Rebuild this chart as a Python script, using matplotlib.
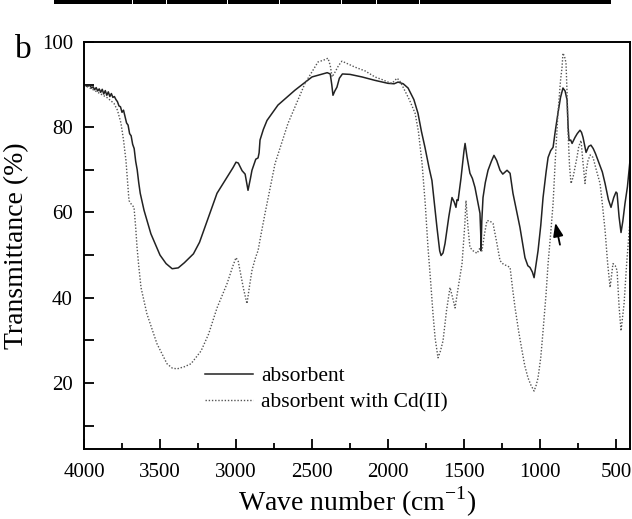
import matplotlib
matplotlib.use("Agg")
import matplotlib.pyplot as plt
from matplotlib.patches import Rectangle

plt.rcParams['font.family'] = ['Liberation Serif', 'DejaVu Serif']
plt.rcParams['mathtext.fontset'] = 'custom'
plt.rcParams['mathtext.rm'] = 'Liberation Serif'

# ---- data ----
wn_abs = [4000, 3980, 3960, 3950, 3940, 3930, 3920, 3910, 3900, 3890, 3880, 3870, 3860, 3850,
          3840, 3830, 3820, 3810, 3800, 3790, 3780, 3770, 3760, 3750, 3740, 3730, 3720, 3710,
          3700, 3690, 3680, 3670, 3660, 3650, 3640, 3630, 3605, 3560, 3500, 3460, 3420, 3380,
          3340, 3280, 3240, 3190, 3125, 3060, 3020, 3000, 2985, 2960, 2940, 2921, 2905, 2895,
          2870, 2855, 2848, 2842, 2820, 2796, 2724, 2612, 2500, 2400, 2380, 2370, 2362, 2350,
          2336, 2320, 2300, 2250, 2171, 2086, 2000, 1960, 1934, 1900, 1868, 1830, 1803, 1780,
          1757, 1730, 1711, 1690, 1678, 1660, 1651, 1638, 1625, 1600, 1579, 1565, 1553, 1546,
          1539, 1520, 1500, 1493, 1480, 1461, 1445, 1428, 1410, 1395, 1390, 1388, 1383, 1375,
          1360, 1342, 1320, 1303, 1285, 1263, 1245, 1230, 1217, 1197, 1178, 1164, 1132, 1099,
          1080, 1066, 1050, 1039, 1025, 1013, 995, 980, 960, 947, 930, 914, 900, 882, 865, 849,
          835, 822, 815, 809, 798, 789, 770, 755, 737, 727, 717, 705, 697, 680, 665, 650, 635,
          618, 590, 572, 550, 533, 515, 500, 493, 480, 467, 455, 441, 425, 408]
t_abs = [90.0, 89.6, 89.8, 89.2, 89.5, 88.8, 89.3, 88.5, 89.0, 88.2, 88.9, 87.8, 88.6, 87.5,
         88.3, 87.2, 87.9, 87.0, 87.2, 86.5, 86.0, 85.0, 84.8, 83.5, 84.0, 82.5, 81.0, 80.5,
         78.5, 78.0, 76.0, 75.0, 72.0, 70.0, 67.0, 64.5, 60.5, 55.0, 50.0, 48.0, 46.8, 47.0,
         48.2, 50.3, 53.0, 58.0, 64.5, 68.2, 70.5, 71.8, 71.6, 69.8, 69.0, 65.2, 68.0, 69.9,
         72.5, 72.8, 74.0, 77.0, 79.5, 81.6, 85.2, 88.7, 91.8, 92.8, 92.5, 90.0, 87.5, 88.5,
         89.4, 91.5, 92.5, 92.4, 91.8, 91.0, 90.3, 90.2, 90.6, 90.2, 89.2, 86.5, 83.3, 79.0,
         75.3, 70.5, 67.5, 60.5, 56.5, 51.0, 49.9, 50.5, 52.7, 59.0, 63.5, 62.5, 61.2, 63.0,
         62.8, 68.0, 74.5, 76.2, 73.0, 69.2, 68.0, 65.9, 62.5, 59.8, 55.0, 51.0, 58.0, 63.5,
         67.0, 69.9, 72.0, 73.4, 72.2, 69.9, 69.0, 69.5, 69.9, 69.2, 64.5, 62.1, 56.5, 49.4,
         47.5, 47.1, 46.0, 44.7, 48.0, 51.0, 57.0, 63.5, 69.5, 72.9, 74.5, 75.3, 79.0, 83.3,
         87.0, 89.2, 88.5, 86.4, 80.0, 76.9, 77.0, 76.2, 77.6, 78.5, 79.3, 78.8, 77.6, 75.5,
         74.1, 75.5, 75.8, 75.0, 73.8, 72.2, 69.5, 66.8, 63.0, 61.2, 63.5, 64.8, 64.5, 59.0,
         55.3, 58.0, 62.1, 66.0, 72.2]

wn_cd = [4000, 3950, 3900, 3850, 3803, 3780, 3757, 3740, 3724, 3715, 3704, 3690, 3671, 3660,
         3651, 3640, 3625, 3586, 3520, 3454, 3420, 3388, 3340, 3296, 3230, 3180, 3125, 3059,
         3020, 3000, 2985, 2974, 2950, 2928, 2910, 2895, 2875, 2862, 2855, 2840, 2809, 2743,
         2658, 2546, 2461, 2420, 2395, 2380, 2368, 2349, 2325, 2303, 2260, 2217, 2150, 2086,
         2040, 2000, 1974, 1955, 1941, 1925, 1908, 1860, 1822, 1800, 1776, 1755, 1737, 1720,
         1704, 1690, 1671, 1655, 1638, 1615, 1592, 1575, 1559, 1540, 1513, 1495, 1487, 1475,
         1461, 1440, 1414, 1398, 1382, 1365, 1349, 1330, 1309, 1285, 1263, 1240, 1217, 1197,
         1180, 1164, 1140, 1118, 1100, 1079, 1060, 1039, 1025, 1013, 995, 980, 960, 947, 930,
         914, 900, 882, 865, 855, 849, 838, 829, 822, 816, 806, 796, 790, 783, 770, 757, 745,
         730, 718, 704, 695, 684, 670, 651, 630, 605, 590, 572, 555, 539, 530, 520, 505, 493,
         480, 467, 458, 447, 430, 408]
t_cd = [89.9, 89.0, 88.0, 87.0, 85.6, 84.0, 81.0, 77.0, 72.2, 68.0, 62.8, 62.0, 61.2, 56.5,
        51.8, 47.5, 42.4, 36.2, 29.2, 24.5, 23.5, 23.3, 23.8, 24.5, 27.5, 31.5, 37.6, 43.3,
        47.5, 49.4, 48.5, 46.4, 42.0, 38.6, 43.0, 46.4, 49.0, 50.4, 51.0, 54.0, 59.8, 71.5,
        80.9, 90.3, 95.3, 95.8, 96.2, 94.5, 91.8, 92.9, 94.5, 95.5, 94.8, 94.1, 93.2, 91.8,
        91.2, 90.6, 90.3, 91.0, 91.5, 91.0, 89.9, 86.5, 83.3, 79.0, 71.5, 62.0, 51.8, 44.0,
        36.2, 30.5, 25.9, 27.5, 29.9, 37.0, 42.4, 40.0, 37.6, 42.0, 48.0, 57.0, 62.8, 57.0,
        51.8, 51.0, 50.4, 51.5, 51.0, 55.0, 58.1, 58.0, 57.4, 53.0, 48.7, 47.8, 47.5, 47.1,
        42.0, 37.6, 32.0, 27.5, 24.0, 21.2, 19.5, 18.1, 19.5, 21.2, 26.0, 32.2, 41.0, 48.0, 55.0,
        62.1, 72.0, 83.3, 91.0, 94.1, 97.4, 96.5, 95.1, 88.0, 79.3, 71.0, 66.8, 67.5, 68.2, 70.5,
        72.9, 75.5, 76.9, 72.0, 66.8, 70.0, 72.2, 73.5, 72.9, 70.0, 66.8, 62.0, 55.8, 48.0, 42.4,
        45.0, 48.0, 47.5, 46.4, 38.0, 32.2, 35.0, 38.6, 48.0, 58.1]

labels = ["absorbent", "absorbent with Cd(II)"]
x_ticks = [4000, 3500, 3000, 2500, 2000, 1500, 1000, 500]
y_ticks = [20, 40, 60, 80, 100]

# ---- figure ----
fig = plt.figure(figsize=(6.32, 5.19), dpi=100)
ax = fig.add_axes([84/632, 1-449/519, 546/632, 407/519])

ax.plot(wn_abs, t_abs, color='#222222', lw=1.1, ls='-', label=labels[0])
ax.plot(wn_cd, t_cd, color='#555555', lw=1.0, ls=(0, (1, 1.3)), label=labels[1])

ax.set_xlim(4000, 408)
ax.set_ylim(4.5, 100)
ax.set_xticks(x_ticks)
ax.set_xticks([3750, 3250, 2750, 2250, 1750, 1250, 750], minor=True)
ax.set_yticks(y_ticks)
ax.set_yticks([10, 30, 50, 70, 90], minor=True)
ax.tick_params(which='both', direction='in', width=1.3, labelsize=15)
ax.tick_params(axis='x', which='major', length=7, pad=10)
ax.tick_params(axis='x', which='minor', length=4)
ax.tick_params(axis='y', which='major', length=7, pad=8)
ax.tick_params(axis='y', which='minor', length=7)
for s in ax.spines.values():
    s.set_linewidth(1.4)

ax.set_xlabel('Wave number (cm$^{\\mathregular{-1}}$)', fontsize=20, labelpad=2)
ax.set_ylabel('Transmittance (%)', fontsize=20, labelpad=9)

leg = ax.legend(loc='upper left', bbox_to_anchor=(0.222, 0.203), frameon=False,
                fontsize=15.5, handlelength=2.2, handletextpad=0.4, labelspacing=0.3,
                borderpad=0, borderaxespad=0)

# arrow
ax.annotate('', xy=(903, 58.2), xytext=(865, 51.8),
            arrowprops=dict(arrowstyle='-|>,head_length=0.8,head_width=0.3',
                            color='black', lw=1.3))

# panel letter
fig.text(15/632, 1-58/519, 'b', fontsize=24, ha='left', va='baseline')

# remnant black bar at top
fig.add_artist(Rectangle((54/632, 1-4/519), (611-54)/632, 4/519,
                         transform=fig.transFigure, color='black', lw=0))
for gx in [132, 166, 227, 279, 341, 376, 419]:
    fig.add_artist(Rectangle((gx/632, 1-4/519), 1/632, 4/519,
                             transform=fig.transFigure, color='white', lw=0))

fig.savefig('out.png', dpi=100)
